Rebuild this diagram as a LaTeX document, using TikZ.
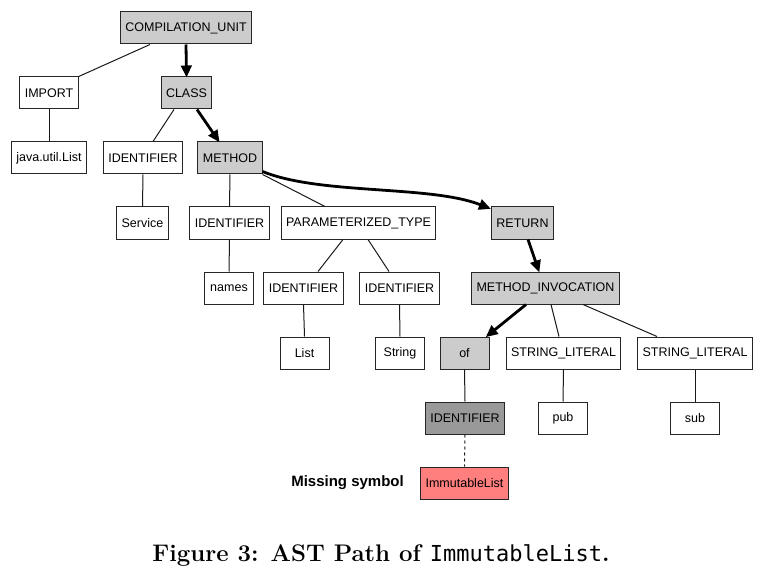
\documentclass[tikz,border=0pt]{standalone}
\usepackage{fontspec}
\usepackage{xcolor}
\usepackage{tikz}
\usetikzlibrary{arrows.meta}
\newfontfamily\boxfont{Liberation Sans}
\newfontfamily\capmono{DejaVu Sans Mono}
\definecolor{pathgray}{HTML}{CCCCCC}
\definecolor{darkgray}{HTML}{999999}
\definecolor{missred}{HTML}{FF7F7F}
\begin{document}
\begin{tikzpicture}[x=1pt,y=-1pt,
		ast/.style={draw=black!85, line width=1pt, font=\boxfont\fontsize{12.5}{15}\selectfont, text=black, minimum width=49pt, minimum height=32pt, inner xsep=5pt, inner ysep=0pt},
		onpath/.style={ast, fill=pathgray},
		link/.style={line width=1pt, black!90},
		hot/.style={line width=2.8pt, -{Triangle[length=12pt,width=10.5pt]}, shorten >=-1pt}]
	\useasboundingbox (0,0) rectangle (762,577);
	\node[onpath] (cu) at (186,28) {COMPILATION\_UNIT};
	\node[ast] (imp) at (49,93) {IMPORT};
	\node[onpath] (cls) at (186.5,93) {CLASS};
	\node[ast] (jul) at (49,158) {java.util.List};
	\node[ast] (idsvc) at (143,158) {IDENTIFIER};
	\node[onpath] (meth) at (230,158) {METHOD};
	\node[ast] (svc) at (142.5,223) {Service};
	\node[ast] (idnames) at (229.5,223) {IDENTIFIER};
	\node[ast] (ptype) at (358.5,223) {PARAMETERIZED\_TYPE};
	\node[onpath] (ret) at (522.5,223) {RETURN};
	\node[ast] (names) at (229,288) {names};
	\node[ast] (idlist) at (303.5,288) {IDENTIFIER};
	\node[ast] (idstr) at (399.5,288) {IDENTIFIER};
	\node[onpath] (minv) at (545.5,288) {METHOD\_INVOCATION};
	\node[ast] (list) at (304.5,353) {List};
	\node[ast] (str) at (400,353) {String};
	\node[onpath] (of) at (464.5,353) {of};
	\node[ast] (slpub) at (563.5,353) {STRING\_LITERAL};
	\node[ast] (slsub) at (695,353) {STRING\_LITERAL};
	\node[ast, fill=darkgray] (idimm) at (465,418) {IDENTIFIER};
	\node[ast] (pub) at (563,418) {pub};
	\node[ast] (sub) at (695,418) {sub};
	\node[ast, fill=missred] (imm) at (464.5,483) {ImmutableList};
	\node[anchor=east, inner sep=0pt, font=\boxfont\bfseries\fontsize{15}{18}\selectfont] (miss) at (404,483) {Missing symbol};
	\node[anchor=base, inner sep=0pt, font=\bfseries\fontsize{24}{29}\selectfont] (cap) at (381,561) {Figure 3: AST Path of {\mdseries\capmono\fontsize{22}{29}\selectfont ImmutableList}.};

	\draw[link] ([xshift=-36pt]cu.south) -- (imp.north east);
	\draw[hot] (cu.south) -- (cls.north);
	\draw[link] (imp.south) -- (jul.north);
	\draw[link] ([xshift=-12.5pt]cls.south) -- ([xshift=10pt]idsvc.north);
	\draw[hot] ([xshift=10.5pt]cls.south) -- ([xshift=-11pt]meth.north);
	\draw[link] (idsvc.south) -- (svc.north);
	\draw[link] (meth.south) -- (idnames.north);
	\draw[link] (meth.south east) -- ([xshift=-33.5pt]ptype.north);
	\draw[hot] ([yshift=3pt]meth.south east) .. controls (320,195) and (430,185) .. ([xshift=-1pt,yshift=-2pt]ret.north west);
	\draw[link] (idnames.south) -- (names.north);
	\draw[link] ([xshift=-15.5pt]ptype.south) -- ([xshift=14.5pt]idlist.north);
	\draw[link] ([xshift=9.5pt]ptype.south) -- ([xshift=-10.5pt]idstr.north);
	\draw[link] (idlist.south) -- (list.north);
	\draw[link] (idstr.south) -- (str.north);
	\draw[hot] ([xshift=5.5pt]ret.south) -- ([xshift=-6.5pt]minv.north);
	\draw[hot] ([xshift=-19.5pt]minv.south) -- ([xshift=-3pt]of.north east);
	\draw[link] ([xshift=5.5pt]minv.south) -- ([xshift=-4.5pt]slpub.north);
	\draw[link] ([xshift=37.5pt]minv.south) -- ([xshift=-38pt]slsub.north);
	\draw[link] (of.south) -- (idimm.north);
	\draw[link] (slpub.south) -- (pub.north);
	\draw[link] (slsub.south) -- (sub.north);
	\draw[link, dashed] (idimm.south) -- (imm.north);
\end{tikzpicture}
\end{document}
